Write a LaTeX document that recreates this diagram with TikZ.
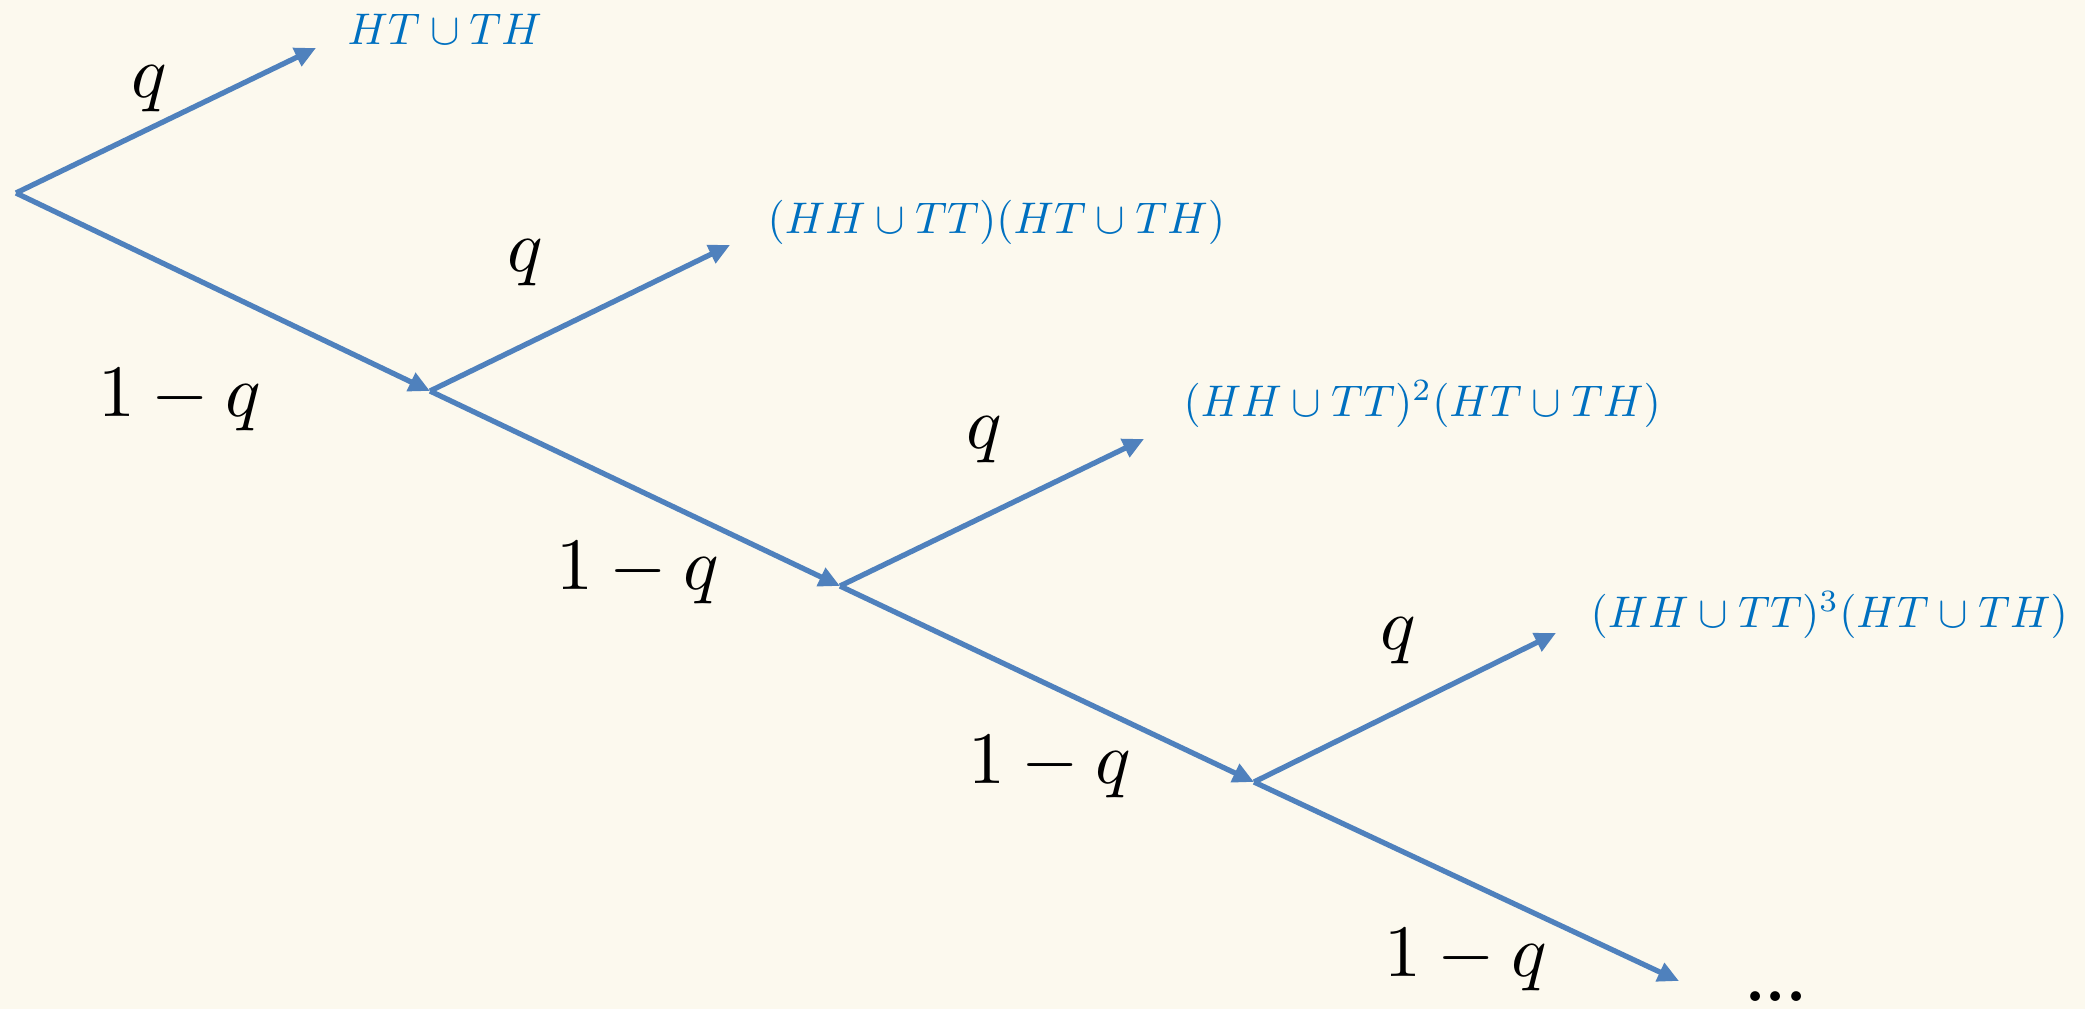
\documentclass[tikz,border=0pt]{standalone}
\usepackage{graphicx}
\usetikzlibrary{arrows.meta}
\definecolor{bg}{HTML}{FCF9EE}
\definecolor{edgeblue}{HTML}{4F81BD}
\definecolor{labblue}{HTML}{0070C0}
\newcommand{\outtxt}[1]{\scalebox{1.26}{#1}}
\newcommand{\probtxt}[1]{\scalebox{2.1}{#1}}
\tikzset{
  branch/.style={draw=edgeblue, line width=1.5pt, -{Triangle[length=6pt,width=5.5pt]}},
  outcome/.style={anchor=west, inner sep=0pt, text=labblue},
  prob/.style={inner sep=0pt},
}
\begin{document}
\begin{tikzpicture}[x=0.01cm, y=-0.01cm]
\fill[bg] (0,0) rectangle (2085,1009);
\useasboundingbox (0,0) rectangle (2085,1009);

% junctions and tips
\coordinate (R)  at (16,193);
\coordinate (J1) at (430,391);
\coordinate (J2) at (840,586);
\coordinate (J3) at (1254,782);
\coordinate (E)  at (1679,981);
\coordinate (A1) at (316,48);
\coordinate (A2) at (730,245);
\coordinate (A3) at (1144,439);
\coordinate (A4) at (1556,633);

% branches
\draw[branch] (R) -- (A1);
\draw[branch] (R) -- (J1);
\draw[branch] (J1) -- (A2);
\draw[branch] (J1) -- (J2);
\draw[branch] (J2) -- (A3);
\draw[branch] (J2) -- (J3);
\draw[branch] (J3) -- (A4);
\draw[branch] (J3) -- (E);

% outcomes
\node[outcome] (L1) at (347,29)  {\outtxt{$HT\cup TH$}};
\node[outcome] (L2) at (767,222) {\outtxt{$(HH\cup TT)(HT\cup TH)$}};
\node[outcome] (L3) at (1183,404) {\outtxt{$(HH\cup TT)^{2}(HT\cup TH)$}};
\node[outcome] (L4) at (1590,615) {\outtxt{$(HH\cup TT)^{3}(HT\cup TH)$}};

% probabilities
\node[prob] (q1) at (149,89)  {\probtxt{$q$}};
\node[prob] (q2) at (525,263) {\probtxt{$q$}};
\node[prob] (q3) at (984,440) {\probtxt{$q$}};
\node[prob] (q4) at (1398,641) {\probtxt{$q$}};
\node[prob] (p1) at (180,400) {\probtxt{$1-q$}};
\node[prob] (p2) at (638,573) {\probtxt{$1-q$}};
\node[prob] (p3) at (1050,767) {\probtxt{$1-q$}};
\node[prob] (p4) at (1466,960) {\probtxt{$1-q$}};
\node[prob, anchor=base] (dots) at (1776,1001) {\scalebox{1.8}{\textbf{...}}};
\end{tikzpicture}
\end{document}
